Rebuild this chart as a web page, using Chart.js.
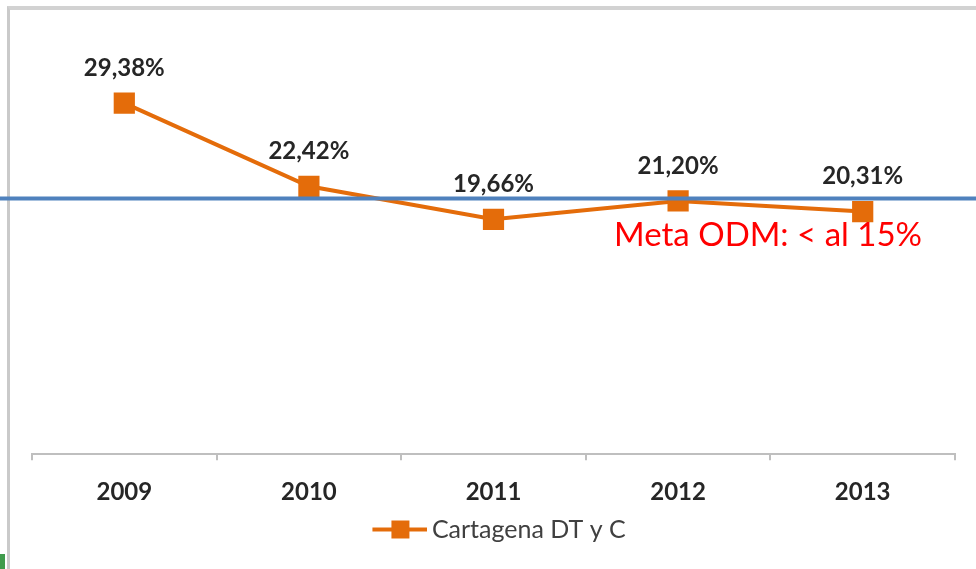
<!DOCTYPE html>
<html>
<head>
<meta charset="utf-8">
<script src="https://cdn.jsdelivr.net/npm/chart.js@4"></script>
<style>
  body { margin: 0; background: #fff; }
  #wrap { position: relative; width: 976px; height: 569px; overflow: hidden; }
  #frame { position: absolute; left: 7px; top: 6px; right: 0; bottom: 0;
           border-top: 4px solid #d2d2d2; border-left: 3px solid #cacaca; }
  #tab { position: absolute; left: 0; top: 554px; width: 5px; height: 15px; background: #3f9b4c; }
  canvas { position: absolute; left: 0; top: 0; }
</style>
</head>
<body>
<div id="wrap">
  <div id="frame"></div>
  <div id="tab"></div>
  <canvas id="chart" width="976" height="569"></canvas>
</div>
<script>
const years = ['2009', '2010', '2011', '2012', '2013'];
const cartagena = [29.38, 22.42, 19.66, 21.20, 20.31];
const seriesName = 'Cartagena DT y C';
const metaLineValue = 21.4;
const metaText = 'Meta ODM: < al 15%';

const orange = '#e46c0a';
const blue = '#4f81bd';

// legend icon: line with square marker (left part transparent so it sits close to the text)
const legendIcon = document.createElement('canvas');
legendIcon.width = 74;
legendIcon.height = 20;
{
  const c = legendIcon.getContext('2d');
  c.strokeStyle = orange;
  c.lineWidth = 4;
  c.beginPath();
  c.moveTo(19, 10);
  c.lineTo(74, 10);
  c.stroke();
  c.fillStyle = orange;
  c.fillRect(38, 1, 18, 18);
}

const pct = v => v.toFixed(2).replace('.', ',') + '%';

const overlay = {
  id: 'overlay',
  afterDatasetsDraw(chart) {
    const ctx = chart.ctx;
    const y = chart.scales.y.getPixelForValue(metaLineValue);
    ctx.save();
    ctx.strokeStyle = blue;
    ctx.lineWidth = 4;
    ctx.beginPath();
    ctx.moveTo(0, y);
    ctx.lineTo(chart.width, y);
    ctx.stroke();

    ctx.font = '33px Lato';
    ctx.fillStyle = '#ff0000';
    ctx.textAlign = 'left';
    ctx.textBaseline = 'middle';
    ctx.fillText(metaText, chart.scales.x.getPixelForValue(3) - 64, y + 37);

    ctx.font = 'bold 24px Lato';
    ctx.fillStyle = '#262626';
    ctx.textAlign = 'center';
    chart.getDatasetMeta(0).data.forEach((pt, i) => {
      ctx.fillText(pct(cartagena[i]), pt.x, pt.y - 35);
    });
    ctx.restore();
  }
};

new Chart(document.getElementById('chart'), {
  type: 'line',
  data: {
    labels: years,
    datasets: [{
      label: seriesName,
      data: cartagena,
      borderColor: orange,
      backgroundColor: orange,
      borderWidth: 4,
      pointStyle: 'rect',
      pointRadius: 15,
      pointHoverRadius: 15,
      pointBorderWidth: 0,
      tension: 0
    }]
  },
  options: {
    responsive: false,
    animation: false,
    layout: { padding: { left: 32, right: 21, top: 36, bottom: 17 } },
    scales: {
      x: {
        offset: true,
        grid: { offset: true, drawOnChartArea: false, drawTicks: true, tickLength: 6, color: '#bfbfbf', lineWidth: 2 },
        border: { display: true, color: '#bfbfbf', width: 2 },
        ticks: { color: '#262626', font: { family: 'Lato', size: 24, weight: 'bold' }, padding: 18 },
        afterFit(scale) { scale.height -= 8; }
      },
      y: { display: false, min: 0, max: 35 }
    },
    plugins: {
      tooltip: { enabled: false },
      legend: {
        position: 'bottom',
        labels: {
          usePointStyle: true,
          pointStyleWidth: 58,
          color: '#404040',
          font: { family: 'Lato', size: 25 },
          padding: 0,
          generateLabels(chart) {
            const items = Chart.defaults.plugins.legend.labels.generateLabels(chart);
            items.forEach(it => { it.pointStyle = legendIcon; });
            return items;
          }
        }
      }
    }
  },
  plugins: [overlay]
});
</script>
</body>
</html>
